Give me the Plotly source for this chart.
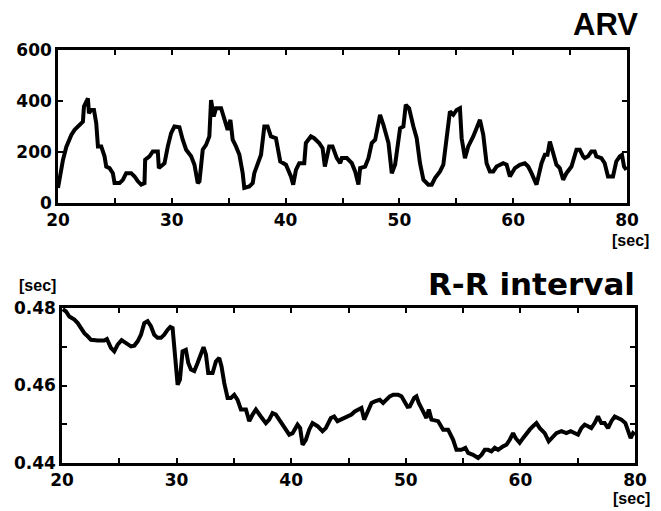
import plotly.graph_objects as go

# ---------------- data ----------------
arv_time = [20.0, 20.44, 20.73, 21.17, 21.46, 21.90, 22.19, 22.28, 22.49, 22.63, 22.72, 22.92, 23.16, 23.36,
            23.51, 23.80, 24.09, 24.24, 24.53, 24.82, 24.97, 25.41, 25.70, 25.99, 26.43, 26.73, 27.02, 27.31,
            27.60, 27.66, 28.04, 28.33, 28.77, 28.86, 29.21, 29.36, 29.65, 29.94, 30.23, 30.67, 30.96, 31.26,
            31.70, 31.99, 32.28, 32.43, 32.72, 33.01, 33.30, 33.45, 33.68, 33.89, 34.33, 34.62, 34.91, 35.15,
            35.35, 35.64, 35.94, 36.23, 36.37, 36.81, 37.11, 37.25, 37.54, 37.84, 38.13, 38.42, 38.71, 39.15,
            39.53, 40.03, 40.47, 40.67, 40.91, 41.20, 41.64, 41.78, 42.22, 42.51, 42.95, 43.25, 43.45, 43.68,
            43.83, 44.12, 44.50, 44.80, 44.94, 45.38, 45.82, 46.11, 46.40, 46.55, 46.99, 47.28, 47.57, 47.87,
            48.30, 48.60, 48.89, 49.04, 49.33, 49.62, 50.06, 50.35, 50.56, 50.85, 51.23, 51.52, 51.81, 52.11,
            52.54, 52.84, 53.13, 53.57, 53.86, 54.15, 54.44, 54.74, 55.03, 55.32, 55.47, 55.76, 56.05, 56.49,
            57.08, 57.37, 57.66, 57.95, 58.25, 58.54, 58.83, 59.12, 59.42, 59.71, 60.15, 60.58, 61.02, 61.32,
            61.61, 62.05, 62.49, 62.78, 63.01, 63.22, 63.51, 63.80, 64.09, 64.39, 64.68, 65.12, 65.56, 65.85,
            66.14, 66.29, 66.58, 66.87, 67.16, 67.31, 67.75, 68.04, 68.33, 68.77, 69.06, 69.36, 69.56, 69.74,
            69.94]
arv_value = [59, 170, 220, 267, 287, 306, 319, 378, 404, 410, 352, 365, 365, 313,
             222, 222, 183, 143, 137, 117, 78, 78, 91, 117, 117, 104, 85, 72,
             78, 170, 183, 202, 202, 137, 150, 156, 222, 274, 300, 297, 248, 209,
             183, 150, 78, 85, 209, 228, 261, 404, 339, 372, 372, 326, 287, 326,
             248, 222, 189, 117, 59, 65, 78, 117, 156, 189, 300, 300, 261, 254,
             163, 150, 104, 72, 130, 156, 156, 235, 261, 254, 235, 215, 143, 196,
             222, 222, 176, 156, 176, 176, 156, 124, 72, 137, 143, 176, 235, 248,
             346, 306, 248, 235, 117, 150, 293, 300, 385, 372, 300, 254, 156, 91,
             72, 72, 98, 124, 150, 248, 359, 346, 365, 372, 254, 176, 222, 261,
             326, 267, 156, 124, 124, 143, 150, 156, 150, 104, 137, 150, 156, 143,
             117, 72, 156, 189, 189, 241, 196, 150, 137, 91, 117, 143, 209, 209,
             183, 176, 183, 202, 202, 183, 176, 156, 104, 104, 163, 183, 189, 143,
             130]

rr_time = [20.06, 20.35, 20.64, 21.08, 21.37, 21.66, 21.95, 22.24, 22.53, 23.11, 23.69, 23.92, 24.27, 24.56,
           24.85, 25.20, 25.58, 26.02, 26.31, 26.60, 26.89, 27.18, 27.47, 27.76, 28.05, 28.34, 28.63, 28.92,
           29.22, 29.45, 29.65, 29.80, 29.94, 30.09, 30.29, 30.52, 30.81, 31.02, 31.25, 31.54, 31.83, 32.12,
           32.35, 32.56, 32.76, 33.14, 33.43, 33.72, 33.92, 34.16, 34.45, 34.74, 35.03, 35.32, 35.61, 36.05,
           36.34, 36.63, 36.92, 37.35, 37.79, 38.08, 38.37, 38.66, 38.95, 39.24, 39.53, 39.83, 40.12, 40.55,
           40.78, 40.99, 41.28, 41.57, 41.86, 42.30, 42.73, 43.02, 43.46, 43.75, 44.04, 44.68, 44.97, 45.26,
           45.55, 45.84, 46.13, 46.37, 46.66, 47.01, 47.30, 47.73, 48.02, 48.31, 48.60, 48.90, 49.33, 49.62,
           49.85, 50.15, 50.35, 50.73, 50.93, 51.13, 51.51, 51.80, 52.01, 52.24, 52.82, 53.26, 53.69, 54.13,
           54.42, 54.85, 55.20, 55.44, 55.87, 56.31, 56.60, 56.89, 57.18, 57.47, 57.76, 58.05, 58.49, 58.78,
           59.07, 59.36, 59.59, 59.94, 60.23, 60.52, 60.81, 61.10, 61.40, 61.69, 62.12, 62.47, 62.85, 63.14,
           63.58, 64.01, 64.39, 64.74, 65.03, 65.32, 65.61, 65.90, 66.19, 66.48, 66.77, 67.06, 67.35, 67.65,
           67.94, 68.23, 68.52, 68.81, 69.16, 69.39, 69.62, 69.83, 70.0]
rr_value = [0.4797, 0.4791, 0.4778, 0.4770, 0.4761, 0.4748, 0.4735, 0.4727, 0.4718, 0.4716, 0.4716, 0.4720,
            0.4697, 0.4688, 0.4705, 0.4717, 0.4710, 0.4701, 0.4703, 0.4714, 0.4731, 0.4761, 0.4766, 0.4753,
            0.4731, 0.4723, 0.4723, 0.4731, 0.4744, 0.4751, 0.4748, 0.4701, 0.4658, 0.4602, 0.4615, 0.4688,
            0.4692, 0.4658, 0.4641, 0.4637, 0.4658, 0.4684, 0.4699, 0.4680, 0.4632, 0.4632, 0.4662, 0.4671,
            0.4649, 0.4606, 0.4568, 0.4568, 0.4576, 0.4563, 0.4538, 0.4538, 0.4508, 0.4525, 0.4538, 0.4520,
            0.4503, 0.4512, 0.4529, 0.4525, 0.4512, 0.4499, 0.4486, 0.4473, 0.4477, 0.4499, 0.4490, 0.4447,
            0.4460, 0.4486, 0.4503, 0.4495, 0.4482, 0.4490, 0.4516, 0.4520, 0.4508, 0.4516, 0.4520, 0.4525,
            0.4533, 0.4538, 0.4542, 0.4512, 0.4533, 0.4555, 0.4559, 0.4563, 0.4555, 0.4563, 0.4572, 0.4576,
            0.4576, 0.4572, 0.4559, 0.4545, 0.4546, 0.4568, 0.4572, 0.4555, 0.4533, 0.4516, 0.4538, 0.4512,
            0.4508, 0.4486, 0.4486, 0.4460, 0.4434, 0.4434, 0.4439, 0.4426, 0.4421, 0.4413, 0.4421, 0.4434,
            0.4434, 0.4430, 0.4439, 0.4434, 0.4443, 0.4447, 0.4460, 0.4477, 0.4464, 0.4452, 0.4464, 0.4477,
            0.4486, 0.4495, 0.4503, 0.4490, 0.4477, 0.4456, 0.4469, 0.4477, 0.4482, 0.4477, 0.4482, 0.4477,
            0.4473, 0.4490, 0.4499, 0.4495, 0.4490, 0.4503, 0.4520, 0.4503, 0.4503, 0.4490, 0.4508, 0.4520,
            0.4516, 0.4512, 0.4503, 0.4486, 0.4464, 0.4477, 0.4473]

x_tickvals = [20, 25, 30, 35, 40, 45, 50, 55, 60, 65, 70]
x_ticktext = ["20", "", "30", "", "40", "", "50", "", "60", "", "80"]
arv_tickvals = [0, 200, 400, 600]
arv_ticktext = ["0", "200", "400", "600"]
rr_tickvals = [0.44, 0.45, 0.46, 0.47, 0.48]
rr_ticktext = ["0.44", "", "0.46", "", "0.48"]

# ---------------- figure ----------------
# page body has an 8px default margin: figure is placed at (8, 8) in the window
OFF = 8
W, H = 661 - OFF, 511 - OFF


def px_x(v):  # window x pixel -> paper fraction
    return (v - OFF) / W


def px_y(v):  # window y pixel -> paper fraction
    return 1 - (v - OFF) / H


TICKFONT = dict(family="DejaVu Sans", size=17, color="black", weight="bold")

fig = go.Figure()
fig.add_trace(go.Scatter(x=arv_time, y=arv_value, mode="lines",
                         line=dict(color="black", width=4), xaxis="x", yaxis="y", showlegend=False))
fig.add_trace(go.Scatter(x=rr_time, y=rr_value, mode="lines",
                         line=dict(color="black", width=4), xaxis="x2", yaxis="y2", showlegend=False))

axis_common = dict(showline=True, linecolor="black", linewidth=2.5, mirror="allticks",
                   ticks="inside", ticklen=5, tickwidth=1.5, tickcolor="black",
                   showgrid=False, zeroline=False, tickfont=TICKFONT, tickmode="array",
                   automargin=False)

fig.update_layout(
    width=W, height=H,
    margin=dict(l=0, r=0, t=0, b=0),
    paper_bgcolor="white", plot_bgcolor="white",
    xaxis=dict(domain=[px_x(58), px_x(627)], range=[20, 70], anchor="y",
               tickvals=x_tickvals, ticktext=x_ticktext, **axis_common),
    yaxis=dict(domain=[px_y(203), px_y(50)], range=[0, 600], anchor="x",
               tickvals=arv_tickvals, ticktext=arv_ticktext, **axis_common),
    xaxis2=dict(domain=[px_x(62), px_x(635)], range=[20, 70], anchor="y2",
                tickvals=x_tickvals, ticktext=x_ticktext, **axis_common),
    yaxis2=dict(domain=[px_y(463), px_y(308)], range=[0.44, 0.48], anchor="x2",
                tickvals=rr_tickvals, ticktext=rr_ticktext, **axis_common),
)

ann = [
    dict(text="ARV", x=px_x(640), y=px_y(25), xanchor="right", yanchor="middle",
         font=dict(family="Liberation Sans", size=31, color="black", weight="bold")),
    dict(text="R-R interval", x=px_x(637), y=px_y(284), xanchor="right", yanchor="middle",
         font=dict(family="DejaVu Sans", size=31, color="black", weight="bold")),
    dict(text="[sec]", x=px_x(630), y=px_y(240), xanchor="center", yanchor="middle",
         font=dict(family="Liberation Sans", size=16, color="black", weight="bold")),
    dict(text="[sec]", x=px_x(631), y=px_y(498), xanchor="center", yanchor="middle",
         font=dict(family="Liberation Sans", size=16, color="black", weight="bold")),
    dict(text="[sec]", x=px_x(37), y=px_y(285), xanchor="center", yanchor="middle",
         font=dict(family="Liberation Sans", size=16, color="black", weight="bold")),
]
for a in ann:
    a.update(xref="paper", yref="paper", showarrow=False)
fig.update_layout(annotations=ann)

fig.write_html("out.html")
